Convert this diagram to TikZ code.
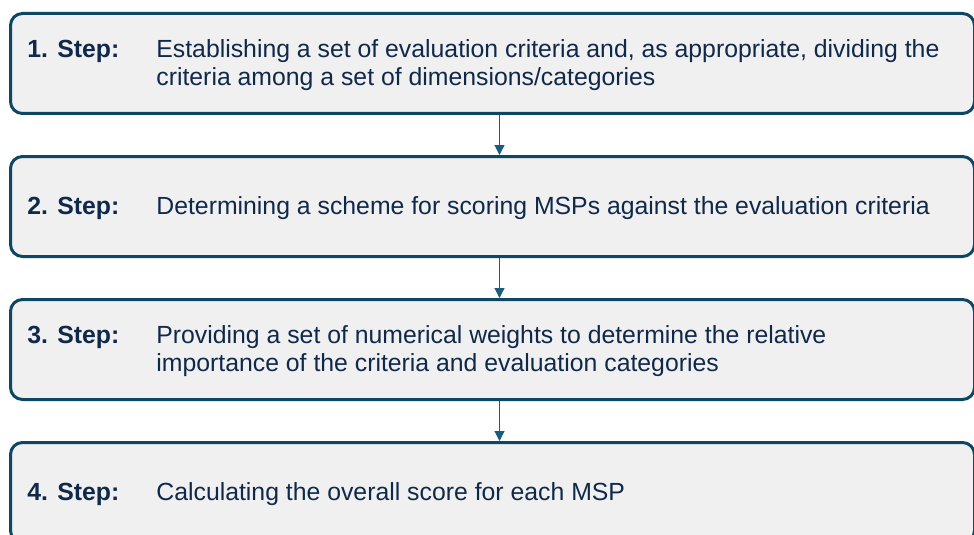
\documentclass[tikz,border=0pt]{standalone}
\usepackage{fontspec}
\setmainfont{Liberation Sans}
\usetikzlibrary{arrows.meta, positioning}
\definecolor{stepborder}{HTML}{0E4761}
\definecolor{steparrow}{HTML}{1A5C7E}
\definecolor{steptext}{HTML}{10294A}
\definecolor{stepfill}{HTML}{F0F0F0}
\tikzset{
  stepbox/.style={draw=stepborder, line width=1.5pt, fill=stepfill,
    rounded corners=6pt, minimum width=482pt, minimum height=50pt},
  steplabel/.style={font=\fontsize{12.4}{14}\selectfont\bfseries, inner sep=0pt},
  stepdesc/.style={align=left, inner sep=0pt, yshift=-1pt},
  steplink/.style={draw=steparrow, line width=0.6pt,
    -{Triangle[length=5pt, width=5pt]}}
}

\begin{document}
\begin{tikzpicture}[x=1pt, y=1pt, font=\fontsize{12.4}{14}\selectfont, text=steptext]
  \useasboundingbox (0,0) rectangle (487,-267.5);
  % the four boxes
  \node[stepbox, anchor=north west] (s1) at (4.5,-6) {};
  \node[stepbox, below=20pt of s1] (s2) {};
  \node[stepbox, below=20pt of s2] (s3) {};
  \node[stepbox, below=20pt of s3] (s4) {};
  % step names and what each step does
  \node[steplabel, right=9pt of s1.west, yshift=6pt] (l1) {1. Step:};
  \node[stepdesc, right=73.5pt of s1.west] (d1) {Establishing a set of evaluation criteria and, as appropriate, dividing the\\criteria among a set of dimensions/categories};
  \node[steplabel, right=9pt of s2.west, yshift=-1pt] (l2) {2. Step:};
  \node[stepdesc, right=73.5pt of s2.west] (d2) {Determining a scheme for scoring MSPs against the evaluation criteria};
  \node[steplabel, right=9pt of s3.west, yshift=6pt] (l3) {3. Step:};
  \node[stepdesc, right=73.5pt of s3.west] (d3) {Providing a set of numerical weights to determine the relative\\importance of the criteria and evaluation categories};
  \node[steplabel, right=9pt of s4.west, yshift=-1pt] (l4) {4. Step:};
  \node[stepdesc, right=73.5pt of s4.west] (d4) {Calculating the overall score for each MSP};
  % arrows between the boxes
  \draw[steplink] ([xshift=3.5pt]s1.south) -- ([xshift=3.5pt]s2.north);
  \draw[steplink] ([xshift=3.5pt]s2.south) -- ([xshift=3.5pt]s3.north);
  \draw[steplink] ([xshift=3.5pt]s3.south) -- ([xshift=3.5pt]s4.north);
\end{tikzpicture}
\end{document}
